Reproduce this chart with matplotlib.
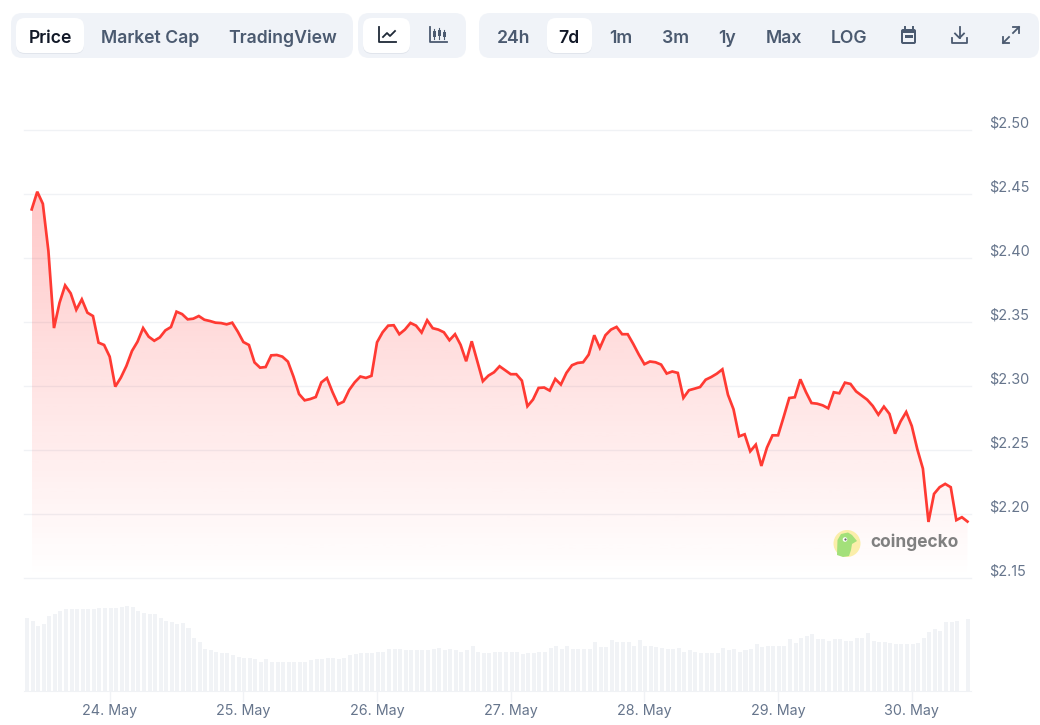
import numpy as np
import matplotlib
matplotlib.use("Agg")
import matplotlib.pyplot as plt
from matplotlib.patches import FancyBboxPatch, Circle, Polygon, Rectangle

plt.rcParams["font.family"] = ["Inter", "DejaVu Sans"]

# hourly price, first point is 23 May 10:00
prices = [
    2.4378, 2.4516, 2.4422, 2.4053, 2.3452, 2.365, 2.3785, 2.3723, 2.3595, 2.3676,
    2.3572, 2.3546, 2.3338, 2.332, 2.3229, 2.2995, 2.3065, 2.3156, 2.3273, 2.3346,
    2.3452, 2.3385, 2.3353, 2.3379, 2.3434, 2.346, 2.358, 2.3561, 2.352, 2.3525,
    2.3546, 2.3517, 2.3507, 2.3494, 2.3491, 2.3481, 2.3494, 2.3424, 2.3343, 2.332,
    2.3184, 2.3143, 2.3148, 2.3239, 2.3242, 2.3229, 2.319, 2.3073, 2.2937, 2.2888,
    2.2898, 2.2914, 2.3028, 2.3062, 2.2953, 2.2857, 2.2878, 2.2969,
    2.3029, 2.3074, 2.3063, 2.3079, 2.3341, 2.3419, 2.3471, 2.3474, 2.3404, 2.344,
    2.3492, 2.3471, 2.3417, 2.3513, 2.3451, 2.344, 2.3419, 2.3357, 2.3404, 2.3321,
    2.3193, 2.3349, 2.3193, 2.3037, 2.3081, 2.3107, 2.3154, 2.3123, 2.3092, 2.3092,
    2.3042, 2.2842, 2.2894, 2.2985, 2.2988, 2.2964, 2.3055, 2.3011, 2.3102, 2.3162,
    2.318, 2.3185, 2.3245, 2.3396, 2.3297, 2.3396, 2.344, 2.3461, 2.3404, 2.3404,
    2.3328, 2.3245, 2.317, 2.3191, 2.3185, 2.3167, 2.3097, 2.3113, 2.3102, 2.2907,
    2.2967,
    2.2979, 2.2992, 2.3049, 2.307, 2.3096, 2.313, 2.2932, 2.2818, 2.2607, 2.2623,
    2.249, 2.2542, 2.2376, 2.2519, 2.2615, 2.2615, 2.2758, 2.2906, 2.2912, 2.3052,
    2.2953, 2.2867, 2.2862, 2.2849, 2.2826, 2.2951, 2.2943, 2.3026, 2.3016, 2.2958,
    2.2925, 2.2893, 2.2844, 2.2776, 2.2839, 2.2782, 2.2628, 2.2724, 2.2797, 2.2688,
    2.2506, 2.2355, 2.1939, 2.2158, 2.221, 2.2236, 2.221, 2.1953, 2.1976, 2.1942,
]

# volume, no scale on the chart so these are relative heights
volumes = [
    72.7, 70.3, 65.3, 66.7, 75.3, 76.7, 80.3, 81.7, 81.7, 81.7,
    81.7, 81.7, 81.7, 82.7, 82.7, 82.7, 82.7, 84.0, 85.3, 84.0,
    80.3, 78.0, 76.7, 76.7, 72.7, 70.3, 69.0, 66.7, 67.7, 63.0,
    52.7, 49.0, 41.7, 40.7, 39.3, 38.0, 38.0, 35.7, 34.3, 33.0,
    33.0, 31.7, 29.3, 31.7, 29.3, 29.3, 29.3, 29.3, 29.3, 29.3,
    29.3, 30.7, 31.7, 31.7, 33.0, 33.0, 31.7, 33.0, 35.7, 37.0,
    38.0, 38.0, 38.0, 39.3, 39.3, 41.7, 41.7, 41.7, 40.7, 40.7,
    40.7, 40.7, 40.7, 41.7, 43.0, 40.7, 41.7, 40.7, 39.3, 40.7,
    45.3, 39.3, 38.0, 38.0, 39.3, 39.3, 39.3, 39.3, 39.3,
    37.0, 38.0, 38.0, 39.3, 39.3, 43.0, 45.3, 41.7, 45.3, 41.7,
    41.7, 41.7, 41.7, 49.0, 44.3, 44.3, 50.7, 49.0, 49.0, 49.0,
    45.3, 50.7, 45.3, 45.3, 44.3, 43.0, 41.7, 41.7, 43.0, 39.3,
    40.7, 39.3, 38.0, 38.0, 38.0, 38.0, 43.0, 40.7, 41.7, 39.3,
    40.7, 41.7, 46.7, 44.3, 45.3, 45.3, 45.3, 45.3, 51.7, 48.0,
    53.0, 55.3, 56.7, 51.7, 51.7, 50.3, 51.7, 51.7, 50.3, 50.3,
    53.0, 53.0, 58.0, 50.3, 49.0, 49.0, 48.0, 46.7, 46.7, 46.7,
    46.7, 48.0, 53.0, 59.3, 61.7, 60.3, 69.0, 69.0, 70.3, 0.0,
    71.7,
]

price_ticks = [2.15, 2.20, 2.25, 2.30, 2.35, 2.40, 2.45, 2.50]
price_labels = ["$2.15", "$2.20", "$2.25", "$2.30", "$2.35", "$2.40", "$2.45", "$2.50"]
day_ticks = [14, 38, 62, 86, 110, 134, 158]
day_labels = ["24. May", "25. May", "26. May", "27. May", "28. May", "29. May", "30. May"]

range_tabs = ["24h", "7d", "1m", "3m", "1y", "Max", "LOG"]
range_tab_x = [513.5, 569, 621, 675.5, 727, 784, 849]

W, H = 1040, 725
STEP = 5.57
X0 = 31.7
GRID = "#f0f2f5"
BAR = "#f1f3f6"
TOOLBAR = "#f0f3f8"
TICK_TEXT = "#66758c"
RED = "#ff3a33"


def rect_for(left, top, right, bottom):
    return [left / W, 1 - bottom / H, (right - left) / W, (bottom - top) / H]


fig = plt.figure(figsize=(W / 100, H / 100), dpi=100)
xlim = ((24 - X0) / STEP, (971 - X0) / STEP)

# price panel
ax = fig.add_axes(rect_for(24, 129.7, 971, 578.2))
hours = np.arange(len(prices))
ax.set_yticks(price_ticks)
ax.set_xticks([])
ax.tick_params(left=False, labelleft=False)
ax.grid(axis="y", color=GRID, lw=1)
ax.set_axisbelow(True)
for line in ax.get_ygridlines():
    line.set_clip_on(False)
for s in ax.spines.values():
    s.set_visible(False)

fill_top = max(prices)
area = ax.fill_between(hours, prices, 2.15, facecolor="none", edgecolor="none")
gradient = np.zeros((256, 1, 4))
gradient[:, 0, 0] = 1.0
gradient[:, 0, 1] = 0.2
gradient[:, 0, 2] = 0.2
gradient[:, 0, 3] = np.linspace(0.27, 0.0, 256)
im = ax.imshow(gradient, extent=(hours[0], hours[-1], 2.15, fill_top), aspect="auto",
               origin="upper", zorder=2)
im.set_clip_path(area.get_paths()[0], transform=ax.transData)
ax.set_xlim(*xlim)
ax.set_ylim(2.15, 2.50)
ax.plot(hours, prices, color=RED, lw=1.95, zorder=3, solid_joinstyle="miter")

for tick, label in zip(price_ticks, price_labels):
    ax.annotate(label, xy=(1, tick), xycoords=("axes fraction", "data"), xytext=(13, 4.7),
                textcoords="offset points", ha="left", va="center", fontsize=10.4, color=TICK_TEXT)

# volume panel
ax_vol = fig.add_axes(rect_for(24, 600, 971, 691))
ax_vol.bar(np.arange(len(volumes)) - 0.85, volumes, width=0.72, color=BAR)
ax_vol.set_xlim(*xlim)
ax_vol.set_ylim(0, 91)
ax_vol.set_yticks([])
ax_vol.set_xticks(day_ticks)
ax_vol.set_xticklabels(day_labels, fontsize=10.3, color=TICK_TEXT)
ax_vol.tick_params(axis="x", color=GRID, length=8, width=1, pad=1.5)
for name, s in ax_vol.spines.items():
    s.set_visible(name == "bottom")
    s.set_color(GRID)

# toolbar and logo, in pixel coordinates
ui = fig.add_axes([0, 0, 1, 1], zorder=5)
ui.set_xlim(0, W)
ui.set_ylim(H, 0)
ui.axis("off")
ui.patch.set_alpha(0)


def pill(left, top, right, bottom, color, radius=9, shadow=False):
    if shadow:
        ui.add_patch(FancyBboxPatch((left + radius, top + radius + 1), right - left - 2 * radius,
                                    bottom - top - 2 * radius,
                                    boxstyle=f"round,pad={radius},rounding_size={radius}",
                                    fc="#e1e5ec", ec="none"))
    ui.add_patch(FancyBboxPatch((left + radius, top + radius), right - left - 2 * radius,
                                bottom - top - 2 * radius,
                                boxstyle=f"round,pad={radius},rounding_size={radius}",
                                fc=color, ec="none"))


def tab(x, text, active=False):
    ui.text(x, 36, text, ha="center", va="center_baseline", fontsize=12.7, fontweight="semibold",
            color="#111827" if active else "#4b5a70")


pill(11, 13, 353, 58, TOOLBAR, 11)
pill(358, 13, 466, 58, TOOLBAR, 11)
pill(479, 13, 1039, 58, TOOLBAR, 11)
pill(16, 18, 84, 53, "white", shadow=True)
pill(363, 18, 410, 53, "white", shadow=True)
pill(547, 18, 592, 53, "white", shadow=True)

tab(50, "Price", active=True)
tab(150.5, "Market Cap")
tab(282.5, "TradingView")
for x, text in zip(range_tab_x, range_tabs):
    tab(x, text, active=text == "7d")

# line chart icon
ICON_DARK = "#1f2937"
ICON = "#4b5a70"
ui.plot([379, 379, 396], [27, 42, 42], color=ICON_DARK, lw=1.3)
ui.plot([383, 387, 390, 395], [37, 33, 36, 31], color=ICON_DARK, lw=1.3)

# candle icon
ui.plot([430, 430, 447], [27, 42, 42], color=ICON, lw=1.3)
for cx, y0, y1, b0, b1 in [(434, 29, 39, 31, 37), (439, 28, 39, 30, 36), (444, 30, 39, 32, 37)]:
    ui.plot([cx, cx], [y0, y1], color=ICON, lw=0.8)
    ui.add_patch(Rectangle((cx - 1.5, b0), 3, b1 - b0, fc=ICON, ec="none"))

# calendar icon
ui.add_patch(FancyBboxPatch((902, 30), 13, 13, boxstyle="round,pad=1,rounding_size=2", fc=ICON, ec="none"))
ui.add_patch(Rectangle((903, 33), 11, 8.5, fc=TOOLBAR, ec="none"))
ui.add_patch(Rectangle((904.5, 35), 8, 3, fc=ICON, ec="none"))
ui.plot([904.5, 904.5], [27, 30], color=ICON, lw=1.4)
ui.plot([912.5, 912.5], [27, 30], color=ICON, lw=1.4)

# download icon
ui.plot([952, 952, 967, 967], [38, 43, 43, 38], color=ICON, lw=1.3)
ui.plot([959.5, 959.5], [27, 38], color=ICON, lw=1.3)
ui.plot([955, 959.5, 964], [33.5, 38, 33.5], color=ICON, lw=1.3)

# expand icon
ui.plot([1003, 1009], [43, 37], color=ICON, lw=1.3)
ui.plot([1003, 1003, 1009], [37, 43, 43], color=ICON, lw=1.3)
ui.plot([1013, 1019], [33, 27], color=ICON, lw=1.3)
ui.plot([1013, 1019, 1019], [27, 27, 33], color=ICON, lw=1.3)

# coingecko logo
ui.add_patch(Circle((847, 543.5), 13.5, fc="#fbeeaa", ec="none"))
ui.add_patch(Polygon([(837, 555), (837.5, 540), (841, 534), (848, 532.5), (852, 535), (857, 541),
                      (852, 544), (851, 550), (849, 556), (843, 557)], closed=True, fc="#a3e07a", ec="none"))
ui.add_patch(Circle((845, 539.5), 2.3, fc="white", ec="none"))
ui.add_patch(Circle((845.5, 539.5), 1.1, fc="#666666", ec="none"))
ui.text(870, 542.5, "coingecko", ha="left", va="center", fontsize=12.5, fontweight="bold", color="#808080")

fig.savefig("out.png", dpi=100)
